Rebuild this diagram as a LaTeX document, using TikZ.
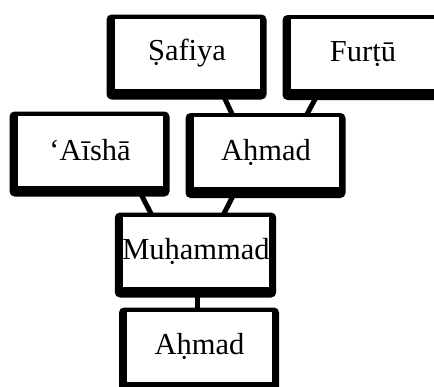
\documentclass[tikz,border=0pt]{standalone}
\usepackage{fontspec}
\setmainfont{Liberation Serif}
\usetikzlibrary{backgrounds}
\begin{document}
\begin{tikzpicture}[x=1pt,y=-1pt]
\tikzstyle{person}=[rectangle,draw=black,line width=1pt,fill=white,
minimum width=146pt,minimum height=71pt,inner sep=0pt,
font=\fontsize{30.5}{34}\selectfont]
\tikzstyle{frame}=[fill=black,rounded corners=5pt]
\tikzstyle{link}=[line width=5pt]
\useasboundingbox (0,0) rectangle (434,386);
\node[person] at (187,53.5) (safiya) {Ṣafiya};
\node[person] at (363,54) (furtu) {Furṭū};
\node[person] at (90,150.5) (aisha) {‘Aīshā};
\node[person] at (266,152) (ahmad) {Aḥmad};
\node[person] at (196,251.5) (muhammad) {Muḥammad};
\node[person] at (199.5,346.5) (ahmadb) {Aḥmad};

\begin{pgfonlayer}{background}
\draw[link] ([xshift=33.5]safiya.south) -- ([xshift=-33]ahmad.north);
\draw[link] ([xshift=-43]furtu.south) -- ([xshift=40]ahmad.north);
\draw[link] ([xshift=47]aisha.south) -- ([xshift=-44]muhammad.north);
\draw[link] ([xshift=-29]ahmad.south) -- ([xshift=27]muhammad.north);
\draw[link] ([xshift=1.5]muhammad.south) -- ([xshift=-2]ahmadb.north);
\foreach \n in {safiya,furtu,aisha,ahmad,muhammad,ahmadb}
  \fill[frame] ([shift={(-7,10)}]\n.south west) rectangle ([shift={(6,-3)}]\n.north east);
\end{pgfonlayer}
\end{tikzpicture}
\end{document}
